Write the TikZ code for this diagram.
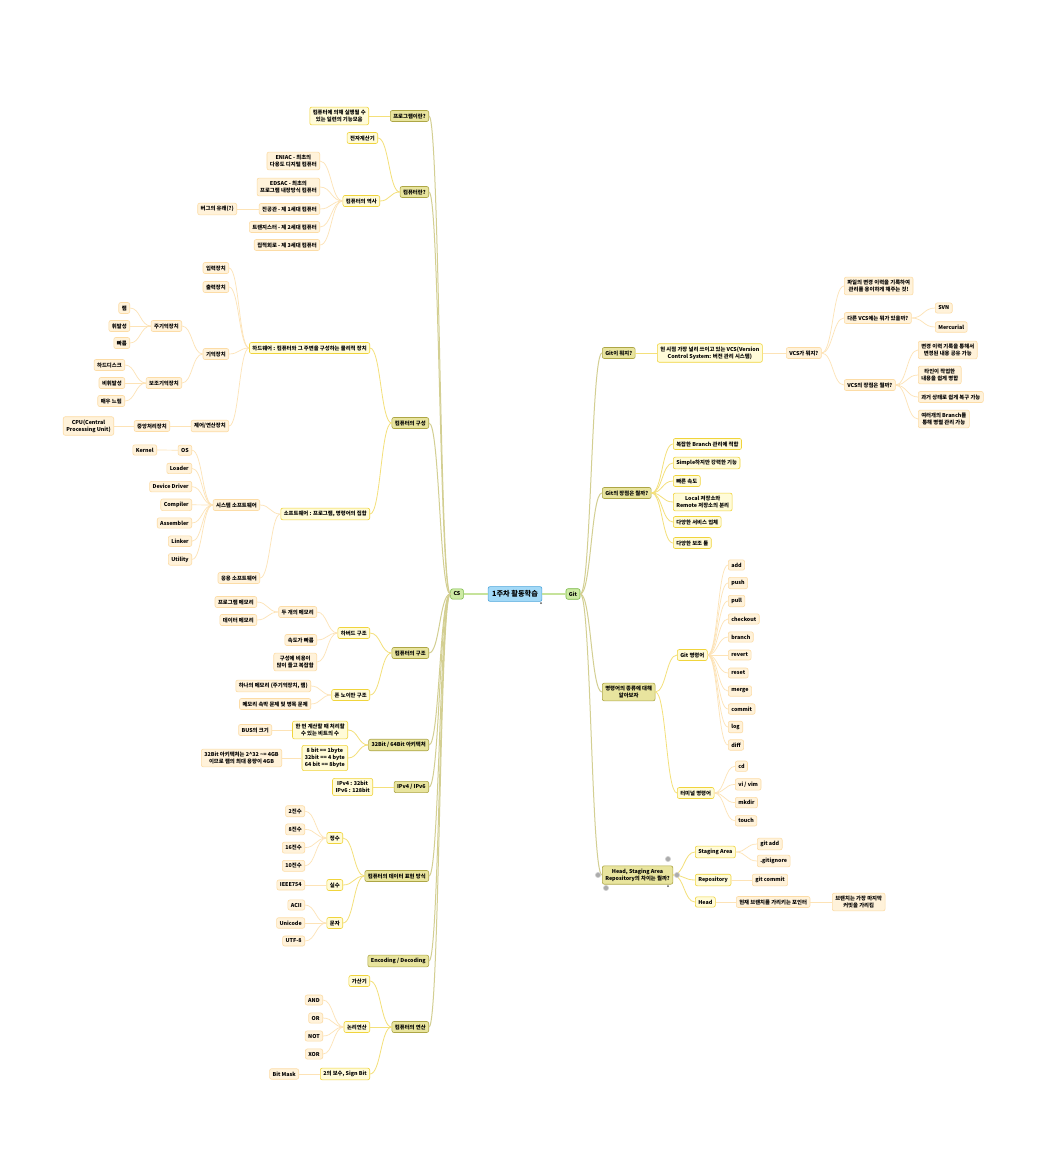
\documentclass[tikz,border=0pt]{standalone}
\usepackage{fontspec}
\setmainfont{Noto Sans CJK KR}
\usepackage{xcolor}
\usetikzlibrary{calc}

\definecolor{rootfill}{HTML}{A3D9F7}
\definecolor{rootline}{HTML}{4DA6DB}
\definecolor{mainfill}{HTML}{CDEBA4}
\definecolor{mainline}{HTML}{79B846}
\definecolor{topicfill}{HTML}{E8E49E}
\definecolor{topicline}{HTML}{ADA645}
\definecolor{subfill}{HTML}{FFFBD8}
\definecolor{subline}{HTML}{F0D43C}
\definecolor{leaffill}{HTML}{FFF2DA}
\definecolor{leafline}{HTML}{FCDCA6}
\definecolor{edgeone}{HTML}{C6E39B}
\definecolor{edgetwo}{HTML}{D3CF92}
\definecolor{edgethree}{HTML}{F4E07A}
\definecolor{edgefour}{HTML}{FDE3B6}

\tikzset{
	box/.style = {rounded corners = 2pt, line width = 0.6pt, inner xsep = 3pt, inner ysep = 3pt, align = center},
	root/.style = {box, fill = rootfill, draw = rootline, font = \fontsize{7.2}{8}\selectfont\bfseries, inner xsep = 4pt, inner ysep = 4pt},
	main/.style = {box, fill = mainfill, draw = mainline},
	topic/.style = {box, fill = topicfill, draw = topicline},
	sub/.style = {box, fill = subfill, draw = subline},
	leaf/.style = {box, fill = leaffill, draw = leafline},
	e1/.style = {draw = edgeone, line width = 1.4pt},
	e2/.style = {draw = edgetwo, line width = 1pt},
	e3/.style = {draw = edgethree, line width = 0.8pt},
	e4/.style = {draw = edgefour, line width = 0.7pt},
	branch/.style = {to path = {let \p1 = (\tikztostart), \p2 = (\tikztotarget) in
		.. controls ({0.5*\x1+0.5*\x2},\y1) and ({0.5*\x1+0.5*\x2},\y2) .. (\tikztotarget)}},
	handle/.style = {fill = gray!65, draw = gray!35, line width = 0.6pt}
}

\begin{document}
\begin{tikzpicture}[x = 1pt, y = -1pt, font = \fontsize{5.35}{6.8}\selectfont\bfseries]
							\path [use as bounding box, fill = white] (0,0) rectangle (1042,1176);

							\node [root] (r) at (515,594) {1주차 활동학습};
							\node [main] (cs) at (457,594) {CS};
							\node [main] (git) at (573,594) {Git};
							\draw [e1] (r) -- (cs);
							\draw [e1] (r) -- (git);

							\node [topic, anchor = east] (prog) at (429,116) {프로그램이란?};
							\node [topic, anchor = east] (comp) at (429,192) {컴퓨터란?};
							\node [topic, anchor = east] (conf) at (429,423) {컴퓨터의 구성};
							\node [topic, anchor = east] (arch) at (429,653) {컴퓨터의 구조};
							\node [topic, anchor = east] (bits) at (429,745) {32Bit / 64Bit 아키텍처};
							\node [topic, anchor = east] (ipv) at (429,787) {IPv4 / IPv6};
							\node [topic, anchor = east] (data) at (429,876) {컴퓨터의 데이터 표현 방식};
							\node [topic, anchor = east] (enc) at (429,961) {Encoding / Decoding};
							\node [topic, anchor = east] (oper) at (429,1027) {컴퓨터의 연산};
							\foreach \t in {prog,comp,conf,arch,bits,ipv,data,enc,oper}
							{
								\draw [e2] (cs.west) to [branch] (\t.east);
							}

							\node [sub, anchor = east] (progd) at (369,116) {컴퓨터에 의해 실행될 수\\있는 일련의 기능모음};
							\draw [e3] (prog.west) to [branch] (progd.east);

							\node [sub, anchor = east] (ecalc) at (378,138) {전자계산기};
							\node [sub, anchor = east] (hist) at (380,201) {컴퓨터의 역사};
							\draw [e3] (comp.west) to [branch] (ecalc.east);
							\draw [e3] (comp.west) to [branch] (hist.east);
							\node [leaf, anchor = east] (eniac) at (320,161) {ENIAC - 최초의\\다용도 디지털 컴퓨터};
							\node [leaf, anchor = east] (edsac) at (320,187) {EDSAC - 최초의\\프로그램 내장방식 컴퓨터};
							\node [leaf, anchor = east] (gen1) at (320,209) {진공관 - 제 1세대 컴퓨터};
							\node [leaf, anchor = east] (gen2) at (320,227) {트랜지스터 - 제 2세대 컴퓨터};
							\node [leaf, anchor = east] (gen3) at (320,245) {집적회로 - 제 3세대 컴퓨터};
							\foreach \t in {eniac,edsac,gen1,gen2,gen3}
							{
								\draw [e4] (hist.west) to [branch] (\t.east);
							}
							\node [leaf, anchor = east] (bug) at (237,209) {버그의 유래(?)};
							\draw [e4] (gen1.west) to [branch] (bug.east);

							\node [sub, anchor = east] (hw) at (370,348) {하드웨어 : 컴퓨터와 그 주변을 구성하는 물리적 장치};
							\node [sub, anchor = east] (sw) at (370,514) {소프트웨어 : 프로그램, 명령어의 집합};
							\draw [e3] (conf.west) to [branch] (hw.east);
							\draw [e3] (conf.west) to [branch] (sw.east);
							\node [leaf, anchor = east] (input) at (229,268) {입력장치};
							\node [leaf, anchor = east] (output) at (229,287) {출력장치};
							\node [leaf, anchor = east] (mem) at (229,354) {기억장치};
							\node [leaf, anchor = east] (ctrl) at (229,426) {제어/연산장치};
							\foreach \t in {input,output,mem,ctrl}
							{
								\draw [e4] (hw.west) to [branch] (\t.east);
							}
							\node [leaf, anchor = east] (mainmem) at (182,326) {주기억장치};
							\node [leaf, anchor = east] (auxmem) at (182,383) {보조기억장치};
							\draw [e4] (mem.west) to [branch] (mainmem.east);
							\draw [e4] (mem.west) to [branch] (auxmem.east);
							\node [leaf, anchor = east] (ram) at (130,308) {램};
							\node [leaf, anchor = east] (vol) at (130,326) {휘발성};
							\node [leaf, anchor = east] (fast) at (130,343) {빠름};
							\foreach \t in {ram,vol,fast}
							{
								\draw [e4] (mainmem.west) to [branch] (\t.east);
							}
							\node [leaf, anchor = east] (hdd) at (125,365) {하드디스크};
							\node [leaf, anchor = east] (nvol) at (125,383) {비휘발성};
							\node [leaf, anchor = east] (slow) at (125,401) {매우 느림};
							\foreach \t in {hdd,nvol,slow}
							{
								\draw [e4] (auxmem.west) to [branch] (\t.east);
							}
							\node [leaf, anchor = east] (cpu) at (170,426) {중앙처리장치};
							\node [leaf, anchor = east] (cpuname) at (114,426) {CPU(Central\\Processing Unit)};
							\draw [e4] (ctrl.west) to [branch] (cpu.east);
							\draw [e4] (cpu.west) to [branch] (cpuname.east);

							\node [leaf, anchor = east] (syssw) at (260,505) {시스템 소프트웨어};
							\node [leaf, anchor = east] (appsw) at (260,578) {응용 소프트웨어};
							\draw [e4] (sw.west) to [branch] (syssw.east);
							\draw [e4] (sw.west) to [branch] (appsw.east);
							\foreach \s [count = \i] in {OS,Loader,Device Driver,Compiler,Assembler,Linker,Utility}
							{
								\node [leaf, anchor = east] (sys\i) at (192,{432+18.2*\i}) {\s};
								\draw [e4] (syssw.west) to [branch] (sys\i.east);
							}
							\node [leaf, anchor = east] (kernel) at (157,450) {Kernel};
							\draw [e4] (sys1.west) to [branch] (kernel.east);

							\node [sub, anchor = east] (harv) at (370,633) {하버드 구조};
							\node [sub, anchor = east] (vonn) at (370,695) {폰 노이만 구조};
							\draw [e3] (arch.west) to [branch] (harv.east);
							\draw [e3] (arch.west) to [branch] (vonn.east);
							\node [leaf, anchor = east] (twomem) at (317,612) {두 개의 메모리};
							\node [leaf, anchor = east] (speed) at (317,640) {속도가 빠름};
							\node [leaf, anchor = east] (cost) at (317,662) {구성에 비용이\\많이 들고 복잡함};
							\foreach \t in {twomem,speed,cost}
							{
								\draw [e4] (harv.west) to [branch] (\t.east);
							}
							\node [leaf, anchor = east] (progmem) at (257,602) {프로그램 메모리};
							\node [leaf, anchor = east] (datamem) at (257,620) {데이터 메모리};
							\draw [e4] (twomem.west) to [branch] (progmem.east);
							\draw [e4] (twomem.west) to [branch] (datamem.east);
							\node [leaf, anchor = east] (onemem) at (311,686) {하나의 메모리 (주기억장치, 램)};
							\node [leaf, anchor = east] (neck) at (311,704) {메모리 속박 문제 및 병목 문제};
							\draw [e4] (vonn.west) to [branch] (onemem.east);
							\draw [e4] (vonn.west) to [branch] (neck.east);

							\node [sub, anchor = east] (word) at (348,730) {한 번 계산할 때 처리할\\수 있는 비트의 수};
							\node [sub, anchor = east] (units) at (348,758) {8 bit == 1byte\\32bit == 4 byte\\64 bit == 8byte};
							\draw [e3] (bits.west) to [branch] (word.east);
							\draw [e3] (bits.west) to [branch] (units.east);
							\node [leaf, anchor = east] (bus) at (272,730) {BUS의 크기};
							\node [leaf, anchor = east] (ram4) at (282,758) {32Bit 아키텍처는 2\^{}32 \textasciitilde= 4GB\\이므로 램의 최대 용량이 4GB};
							\draw [e4] (word.west) to [branch] (bus.east);
							\draw [e4] (units.west) to [branch] (ram4.east);

							\node [sub, anchor = east] (ipbits) at (373,787) {IPv4 : 32bit\\IPv6 : 128bit};
							\draw [e3] (ipv.west) to [branch] (ipbits.east);

							\node [sub, anchor = east] (int) at (343,838) {정수};
							\node [sub, anchor = east] (real) at (343,885) {실수};
							\node [sub, anchor = east] (char) at (343,923) {문자};
							\foreach \t in {int,real,char}
							{
								\draw [e3] (data.west) to [branch] (\t.east);
							}
							\foreach \s [count = \i] in {2진수,8진수,16진수,10진수}
							{
								\node [leaf, anchor = east] (base\i) at (305,{793+18.2*\i}) {\s};
								\draw [e4] (int.west) to [branch] (base\i.east);
							}
							\node [leaf, anchor = east] (ieee) at (305,885) {IEEE754};
							\draw [e4] (real.west) to [branch] (ieee.east);
							\foreach \s [count = \i] in {ACII,Unicode,UTF-8}
							{
								\node [leaf, anchor = east] (code\i) at (305,{887+18*\i}) {\s};
								\draw [e4] (char.west) to [branch] (code\i.east);
							}

							\node [sub, anchor = east] (adder) at (370,981) {가산기};
							\node [sub, anchor = east] (logic) at (370,1027) {논리연산};
							\node [sub, anchor = east] (twos) at (370,1074) {2의 보수, Sign Bit};
							\foreach \t in {adder,logic,twos}
							{
								\draw [e3] (oper.west) to [branch] (\t.east);
							}
							\foreach \s [count = \i] in {AND,OR,NOT,XOR}
							{
								\node [leaf, anchor = east] (gate\i) at (323,{982+18*\i}) {\s};
								\draw [e4] (logic.west) to [branch] (gate\i.east);
							}
							\node [leaf, anchor = east] (mask) at (299,1074) {Bit Mask};
							\draw [e4] (twos.west) to [branch] (mask.east);

							\node [topic, anchor = west] (what) at (602,353) {Git이 뭐지?};
							\node [topic, anchor = west] (merit) at (602,493) {Git의 장점은 뭘까?};
							\node [topic, anchor = west] (cmd) at (602,692) {명령어의 종류에 대해\\알아보자};
							\node [topic, anchor = west] (area) at (602,875) {Head, Staging Area\\Repository의 차이는 뭘까?};
							\foreach \t in {what,merit,cmd,area}
							{
								\draw [e2] (git.east) to [branch] (\t.west);
							}

							\node [sub, anchor = west] (vcs) at (657,353) {현 시점 가장 널리 쓰이고 있는 VCS(Version\\Control System: 버전 관리 시스템)};
							\draw [e3] (what.east) to [branch] (vcs.west);
							\node [leaf, anchor = west] (vcsq) at (786,353) {VCS가 뭐지?};
							\draw [e4] (vcs.east) to [branch] (vcsq.west);
							\node [leaf, anchor = west] (vcsdef) at (844,286) {파일의 변경 이력을 기록하여\\관리를 용이하게 해주는 것!};
							\node [leaf, anchor = west] (others) at (844,318) {다른 VCS에는 뭐가 있을까?};
							\node [leaf, anchor = west] (vcsgood) at (844,385) {VCS의 장점은 뭘까?};
							\foreach \t in {vcsdef,others,vcsgood}
							{
								\draw [e4] (vcsq.east) to [branch] (\t.west);
							}
							\node [leaf, anchor = west] (svn) at (935,308) {SVN};
							\node [leaf, anchor = west] (hg) at (935,327) {Mercurial};
							\draw [e4] (others.east) to [branch] (svn.west);
							\draw [e4] (others.east) to [branch] (hg.west);
							\node [leaf, anchor = west] (good1) at (918,350) {변경 이력 기록을 통해서\\변경된 내용 공유 가능};
							\node [leaf, anchor = west] (good2) at (918,375) {타인이 작업한\\내용을 쉽게 병합};
							\node [leaf, anchor = west] (good3) at (918,397) {과거 상태로 쉽게 복구 가능};
							\node [leaf, anchor = west] (good4) at (918,419) {여러개의 Branch를\\통해 병렬 관리 가능};
							\foreach \t in {good1,good2,good3,good4}
							{
								\draw [e4] (vcsgood.east) to [branch] (\t.west);
							}

							\node [sub, anchor = west] (m1) at (673,444) {복잡한 Branch 관리에 적합};
							\node [sub, anchor = west] (m2) at (673,463) {Simple하지만 강력한 기능};
							\node [sub, anchor = west] (m3) at (673,481) {빠른 속도};
							\node [sub, anchor = west] (m4) at (673,502) {Local 저장소와\\Remote 저장소의 분리};
							\node [sub, anchor = west] (m5) at (673,522) {다양한 서비스 업체};
							\node [sub, anchor = west] (m6) at (673,543) {다양한 보조 툴};
							\foreach \t in {m1,m2,m3,m4,m5,m6}
							{
								\draw [e3] (merit.east) to [branch] (\t.west);
							}

							\node [sub, anchor = west] (gcmd) at (677,655) {Git 명령어};
							\node [sub, anchor = west] (tcmd) at (677,793) {터미널 명령어};
							\draw [e3] (cmd.east) to [branch] (gcmd.west);
							\draw [e3] (cmd.east) to [branch] (tcmd.west);
							\foreach \c [count = \i] in {add,push,pull,checkout,branch,revert,reset,merge,commit,log,diff}
							{
								\node [leaf, anchor = west] (gc\i) at (728,{547+18*\i}) {\c};
								\draw [e4] (gcmd.east) to [branch] (gc\i.west);
							}
							\foreach \c [count = \i] in {cd,vi / vim,mkdir,touch}
							{
								\node [leaf, anchor = west] (tc\i) at (735,{748+18.2*\i}) {\c};
								\draw [e4] (tcmd.east) to [branch] (tc\i.west);
							}

							\node [sub, anchor = west] (stage) at (695,852) {Staging Area};
							\node [sub, anchor = west] (repo) at (695,880) {Repository};
							\node [sub, anchor = west] (head) at (695,902) {Head};
							\foreach \t in {stage,repo,head}
							{
								\draw [e3] (area.east) to [branch] (\t.west);
							}
							\node [leaf, anchor = west] (gadd) at (757,844) {git add};
							\node [leaf, anchor = west] (gign) at (757,861) {.gitignore};
							\draw [e4] (stage.east) to [branch] (gadd.west);
							\draw [e4] (stage.east) to [branch] (gign.west);
							\node [leaf, anchor = west] (gcom) at (752,880) {git commit};
							\draw [e4] (repo.east) to [branch] (gcom.west);
							\node [leaf, anchor = west] (ptr) at (736,902) {현재 브랜치를 가리키는 포인터};
							\node [leaf, anchor = west] (last) at (832,902) {브랜치는 가장 마지막\\커밋을 가리킴};
							\draw [e4] (head.east) to [branch] (ptr.west);
							\draw [e4] (ptr.east) to [branch] (last.west);

							\foreach \p in {(668,859),(598,875),(606,888),(677,875)}
							{
								\draw [handle] \p circle (2.6);
							}
							\fill [gray!70!black] (668,886) circle (1);
							\fill [gray!70!black] (541,603) circle (1);
						\end{tikzpicture}
\end{document}
